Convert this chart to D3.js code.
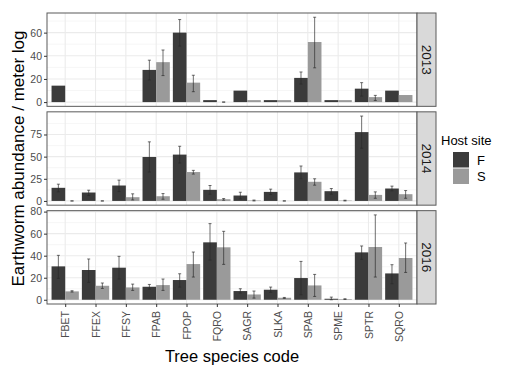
<!DOCTYPE html>
<html lang="en">
<head>
  <meta charset="UTF-8" />
  <title>Earthworm abundance by tree species</title>
  <script src="https://cdn.jsdelivr.net/npm/d3@7"></script>
  <style>
    body { margin: 0; background: #fff; }
    svg text { font-family: "Liberation Sans", Arial, sans-serif; }
  </style>
</head>
<body>
  <div id="chart"></div>
  <script>
    // categories
    var species = ["FBET", "FFEX", "FFSY", "FPAB", "FPOP", "FQRO", "SAGR", "SLKA", "SPAB", "SPME", "SPTR", "SQRO"];
    var years = ["2013", "2014", "2016"];
    var hosts = ["F", "S"];

    // 2013 (null = no bar / no error bar)
    var f2013 = [14.2, null, null, 27.8, 60, 1.7, 9.9, 1.7, 20.9, 1.7, 11.6, 9.9];
    var f2013Lo = [null, null, null, 19.1, 48.4, null, null, null, 15.6, null, 5.2, null];
    var f2013Hi = [null, null, null, 36.2, 71.3, null, null, null, 26, null, 16.8, null];
    var s2013 = [null, null, null, 34.5, 16.8, 0, 1.7, 1.7, 51.9, 1.7, 4.3, 6.1];
    var s2013Lo = [null, null, null, 22.9, 9, 0, null, null, 29.6, null, 1.4, null];
    var s2013Hi = [null, null, null, 45, 23.2, 0, null, null, 73.3, null, 5.8, null];

    // 2014
    var f2014 = [14.8, 9.5, 17.4, 49.6, 52.3, 12.5, 6.1, 10.2, 32.2, 11, 77.7, 14];
    var f2014Lo = [10.2, 6.1, 10.6, 32.6, 42.8, 7.6, 2.3, 7.2, 25, 7.6, 59.5, 11.4];
    var f2014Hi = [18.9, 12.1, 23.5, 66.7, 61.7, 17.4, 9.8, 13.3, 39.4, 14, 95.8, 16.7];
    var s2014 = [0, 0, 4.2, 5.3, 32.6, 1.9, 0.5, 0, 21.6, 0.4, 6.8, 7.6];
    var s2014Lo = [0, 0, 1.1, 1.9, 30.3, 0.8, 0, 0, 17.8, 0, 3, 3];
    var s2014Hi = [0, 0, 8, 8.3, 34.5, 2.7, 1, 0, 25, 0.8, 10.2, 11.7];

    // 2016
    var f2016 = [30.3, 27, 29.1, 11.8, 17.9, 52.1, 7.9, 9.1, 19.7, 0.9, 43, 23.9];
    var f2016Lo = [19.4, 15.8, 18.8, 9.7, 11.5, 36, 6.1, 6.7, 4.5, 0, 36.7, 14.5];
    var f2016Hi = [40.3, 37, 39.4, 13.9, 23.6, 69.1, 10, 11.5, 34.8, 2.4, 48.8, 31.8];
    var s2016 = [7.6, 12.7, 11.2, 13.3, 32.4, 47.6, 4.8, 1.8, 13, 0.6, 47.9, 37.9];
    var s2016Lo = [7, 10.3, 8.5, 8.5, 20.6, 32.1, 1.5, 1.2, 3, 0.3, 20.6, 24.8];
    var s2016Hi = [8.2, 15.2, 14.2, 18.8, 43.3, 62.1, 7.9, 2.1, 23, 0.9, 77, 51.5];

    // y tick labels per panel
    var ticks2013 = [0, 20, 40, 60];
    var ticks2014 = [0, 25, 50, 75];
    var ticks2016 = [0, 20, 40, 60, 80];

    var hostColors = ["#3b3b3b", "#9a9a9a"];

    var panels = [
      { year: "2013", F: [f2013, f2013Lo, f2013Hi], S: [s2013, s2013Lo, s2013Hi], ticks: ticks2013 },
      { year: "2014", F: [f2014, f2014Lo, f2014Hi], S: [s2014, s2014Lo, s2014Hi], ticks: ticks2014 },
      { year: "2016", F: [f2016, f2016Lo, f2016Hi], S: [s2016, s2016Lo, s2016Hi], ticks: ticks2016 }
    ];

    var W = 519, H = 380;
    var plotL = 47, plotR = 417, plotT = 13, plotB = 304, gap = 5.5, stripW = 19;
    var panelH = (plotB - plotT - 2 * gap) / 3;

    var svg = d3.select("#chart").append("svg")
      .attr("width", W).attr("height", H);

    var x = d3.scalePoint().domain(species).range([plotL, plotR]).padding(0.6);
    var step = x.step();
    var barW = step * 0.45;
    var capW = 3;

    panels.forEach(function(p, pi) {
      var y0 = plotT + pi * (panelH + gap);
      var y1 = y0 + panelH;
      var all = [0].concat(p.F[0], p.F[2], p.S[0], p.S[2]).filter(function(v) { return v != null; });
      var maxV = d3.max(all);
      var y = d3.scaleLinear().domain([-0.05 * maxV, maxV * 1.05]).range([y1, y0]);
      var g = svg.append("g");

      g.append("rect").attr("x", plotL).attr("y", y0).attr("width", plotR - plotL).attr("height", panelH)
        .attr("fill", "#fff");

      // minor grid
      var stepT = p.ticks[1] - p.ticks[0];
      var minor = [];
      for (var v = p.ticks[0] - stepT / 2; v <= maxV * 1.05; v += stepT) {
        if (v >= -0.05 * maxV) minor.push(v);
      }
      g.selectAll(".minor").data(minor).enter().append("line")
        .attr("x1", plotL).attr("x2", plotR)
        .attr("y1", function(d) { return y(d); }).attr("y2", function(d) { return y(d); })
        .attr("stroke", "#f0f0f0").attr("stroke-width", 0.6);
      // major grid
      g.selectAll(".majorY").data(p.ticks).enter().append("line")
        .attr("x1", plotL).attr("x2", plotR)
        .attr("y1", function(d) { return y(d); }).attr("y2", function(d) { return y(d); })
        .attr("stroke", "#ebebeb").attr("stroke-width", 1.1);
      g.selectAll(".majorX").data(species).enter().append("line")
        .attr("x1", function(d) { return x(d); }).attr("x2", function(d) { return x(d); })
        .attr("y1", y0).attr("y2", y1)
        .attr("stroke", "#ebebeb").attr("stroke-width", 1.1);

      // bars + error bars
      hosts.forEach(function(h, hi) {
        var vals = p[h];
        var rows = species.map(function(s, i) {
          return { sp: s, v: vals[0][i], lo: vals[1][i], hi: vals[2][i] };
        });
        var bx = function(d) { return x(d.sp) - barW + hi * barW; };
        g.selectAll(".bar" + h).data(rows.filter(function(d) { return d.v != null; })).enter()
          .append("rect")
          .attr("x", bx)
          .attr("width", barW)
          .attr("y", function(d) { return y(Math.max(d.v, 0)); })
          .attr("height", function(d) { return Math.abs(y(0) - y(d.v)); })
          .attr("fill", hostColors[hi]);
        var eb = rows.filter(function(d) { return d.lo != null; });
        var cx = function(d) { return bx(d) + barW / 2; };
        var eg = g.selectAll(".eb" + h).data(eb).enter().append("g")
          .attr("stroke", "#2a2a2a").attr("stroke-width", 0.8).attr("stroke-opacity", 0.85);
        eg.append("line").attr("x1", cx).attr("x2", cx)
          .attr("y1", function(d) { return y(d.lo); }).attr("y2", function(d) { return y(d.hi); });
        eg.append("line").attr("x1", function(d) { return cx(d) - capW / 2; })
          .attr("x2", function(d) { return cx(d) + capW / 2; })
          .attr("y1", function(d) { return y(d.lo); }).attr("y2", function(d) { return y(d.lo); });
        eg.append("line").attr("x1", function(d) { return cx(d) - capW / 2; })
          .attr("x2", function(d) { return cx(d) + capW / 2; })
          .attr("y1", function(d) { return y(d.hi); }).attr("y2", function(d) { return y(d.hi); });
      });

      // panel border
      g.append("rect").attr("x", plotL).attr("y", y0).attr("width", plotR - plotL).attr("height", panelH)
        .attr("fill", "none").attr("stroke", "#5a5a5a").attr("stroke-width", 1);

      // y axis
      var ax = g.append("g").attr("transform", "translate(" + plotL + ",0)")
        .call(d3.axisLeft(y).tickValues(p.ticks).tickSize(3).tickPadding(2).tickFormat(d3.format("d")));
      ax.select(".domain").remove();
      ax.selectAll(".tick line").attr("stroke", "#333");
      ax.selectAll("text").attr("fill", "#4d4d4d").attr("font-size", "10.5px")
        .style("font-family", "'Liberation Sans', Arial, sans-serif");

      // strip
      g.append("rect").attr("x", plotR).attr("y", y0).attr("width", stripW).attr("height", panelH)
        .attr("fill", "#d9d9d9").attr("stroke", "#5a5a5a").attr("stroke-width", 1);
      g.append("text")
        .attr("transform", "translate(" + (plotR + stripW / 2) + "," + (y0 + panelH / 2) + ") rotate(90)")
        .attr("text-anchor", "middle").attr("dy", "0.35em")
        .attr("font-size", "13.5px").attr("fill", "#1a1a1a")
        .text(p.year);

      // x axis ticks on bottom panel only
      if (pi === panels.length - 1) {
        var xa = g.append("g").attr("transform", "translate(0," + y1 + ")")
          .call(d3.axisBottom(x).tickSize(3).tickPadding(2));
        xa.select(".domain").remove();
        xa.selectAll(".tick line").attr("stroke", "#333");
        xa.selectAll("text")
          .attr("fill", "#4d4d4d").attr("font-size", "10.5px")
          .style("font-family", "'Liberation Sans', Arial, sans-serif")
          .attr("text-anchor", "end")
          .attr("transform", "rotate(-90)")
          .attr("x", -7).attr("y", 0).attr("dy", "0.35em");
      }
    });

    // axis titles
    svg.append("text")
      .attr("transform", "translate(18," + ((plotT + plotB) / 2) + ") rotate(-90)")
      .attr("text-anchor", "middle").attr("dy", "0.35em")
      .attr("font-size", "17px").attr("fill", "#000")
      .text("Earthworm abundance / meter log");
    svg.append("text")
      .attr("x", (plotL + plotR) / 2).attr("y", 362)
      .attr("text-anchor", "middle")
      .attr("font-size", "16.5px").attr("fill", "#000")
      .text("Tree species code");

    // legend
    var lg = svg.append("g");
    lg.append("text").attr("x", 441).attr("y", 145).attr("font-size", "13px").attr("fill", "#000")
      .text("Host site");
    hosts.forEach(function(h, i) {
      lg.append("rect").attr("x", 453).attr("y", 152 + i * 16.5).attr("width", 16).attr("height", 15.5)
        .attr("fill", hostColors[i]);
      lg.append("text").attr("x", 477).attr("y", 152 + i * 16.5 + 8).attr("dy", "0.35em")
        .attr("font-size", "13px").attr("fill", "#000").text(h);
    });
  </script>
</body>
</html>
